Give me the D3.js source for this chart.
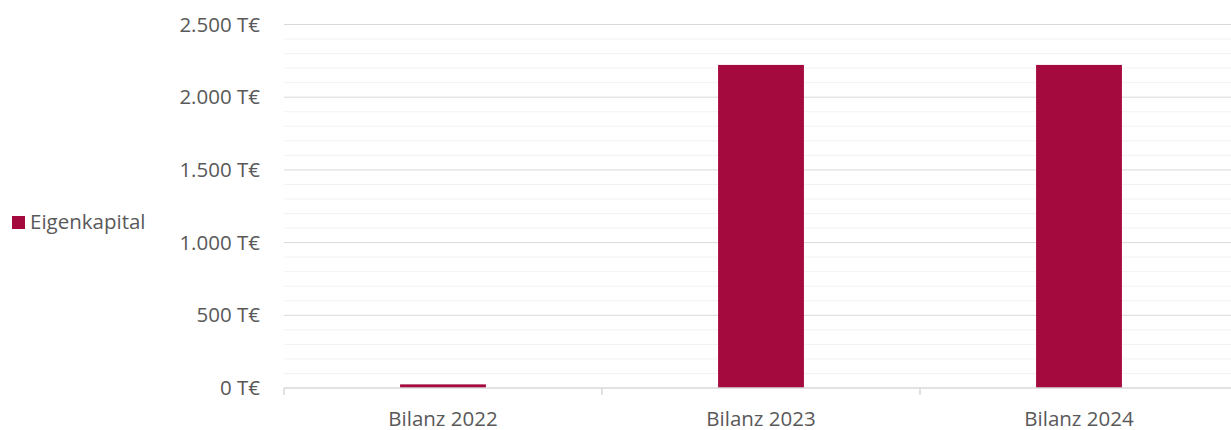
<!DOCTYPE html>
<html>
<head>
<meta charset="utf-8">
<script src="https://cdn.jsdelivr.net/npm/d3@7"></script>
<style>
  body { margin: 0; background: white; }
  svg { display: block; font-family: "Open Sans", sans-serif; }
</style>
</head>
<body>
<div id="chart"></div>
<script>
const categories = ["Bilanz 2022", "Bilanz 2023", "Bilanz 2024"];
const eigenkapital = [25, 2222, 2222];
const seriesName = "Eigenkapital";
const majorTicks = [0, 500, 1000, 1500, 2000, 2500];

const width = 1231, height = 430;
const margin = { top: 24.5, right: -7, bottom: 42, left: 284 };
const plotW = width - margin.left - margin.right;
const plotH = height - margin.top - margin.bottom;
const fontSize = "20.5px";

const svg = d3.select("#chart").append("svg")
  .attr("width", width)
  .attr("height", height);

const g = svg.append("g")
  .attr("transform", `translate(${margin.left},${margin.top})`);

const x = d3.scaleBand()
  .domain(categories)
  .range([0, plotW])
  .paddingInner(0.73)
  .paddingOuter(0.365);

const y = d3.scaleLinear()
  .domain([0, 2500])
  .range([plotH, 0]);

// minor gridlines
g.append("g")
  .selectAll("line")
  .data(d3.range(100, 2500, 100).filter(v => v % 500 !== 0))
  .join("line")
    .attr("x1", 0)
    .attr("x2", plotW)
    .attr("y1", d => y(d))
    .attr("y2", d => y(d))
    .attr("stroke", "#f2f2f2")
    .attr("stroke-width", 1);

// major gridlines
g.append("g")
  .selectAll("line")
  .data(majorTicks.slice(1))
  .join("line")
    .attr("x1", 0)
    .attr("x2", plotW)
    .attr("y1", d => y(d))
    .attr("y2", d => y(d))
    .attr("stroke", "#d9d9d9")
    .attr("stroke-width", 1);

// y axis labels
const yAxis = g.append("g")
  .call(d3.axisLeft(y)
    .tickValues(majorTicks)
    .tickSize(0)
    .tickPadding(24)
    .tickFormat(d => d3.format(",")(d).replace(/,/g, ".") + " T€"));
yAxis.select(".domain").remove();
yAxis.selectAll("text")
  .attr("fill", "#595959")
  .style("font-size", fontSize)
  .style("font-family", "Open Sans, sans-serif");

// bars
g.append("g")
  .selectAll("rect")
  .data(categories.map((c, i) => ({ category: c, value: eigenkapital[i] })))
  .join("rect")
    .attr("x", d => x(d.category))
    .attr("width", x.bandwidth())
    .attr("y", d => y(d.value))
    .attr("height", d => y(0) - y(d.value))
    .attr("fill", "#a50a3f");

// x axis
const step = x.step();
const xAxis = g.append("g")
  .attr("transform", `translate(0,${plotH})`);
xAxis.append("line")
  .attr("x1", 0).attr("x2", plotW)
  .attr("y1", 0).attr("y2", 0)
  .attr("stroke", "#d9d9d9")
  .attr("stroke-width", 1.5);
xAxis.selectAll("line.tick")
  .data(d3.range(0, categories.length + 1))
  .join("line")
    .attr("class", "tick")
    .attr("x1", i => i * step)
    .attr("x2", i => i * step)
    .attr("y1", 0)
    .attr("y2", 7)
    .attr("stroke", "#d9d9d9")
    .attr("stroke-width", 1.5);
xAxis.selectAll("text")
  .data(categories)
  .join("text")
    .attr("x", d => x(d) + x.bandwidth() / 2)
    .attr("y", 37.5)
    .attr("text-anchor", "middle")
    .attr("fill", "#595959")
    .style("font-size", fontSize)
    .text(d => d);

// legend
const legend = svg.append("g")
  .attr("transform", "translate(12,216)");
legend.append("rect")
  .attr("width", 13)
  .attr("height", 13)
  .attr("fill", "#a50a3f");
legend.append("text")
  .attr("x", 18)
  .attr("y", 13)
  .attr("fill", "#595959")
  .style("font-size", fontSize)
  .text(seriesName);
</script>
</body>
</html>
